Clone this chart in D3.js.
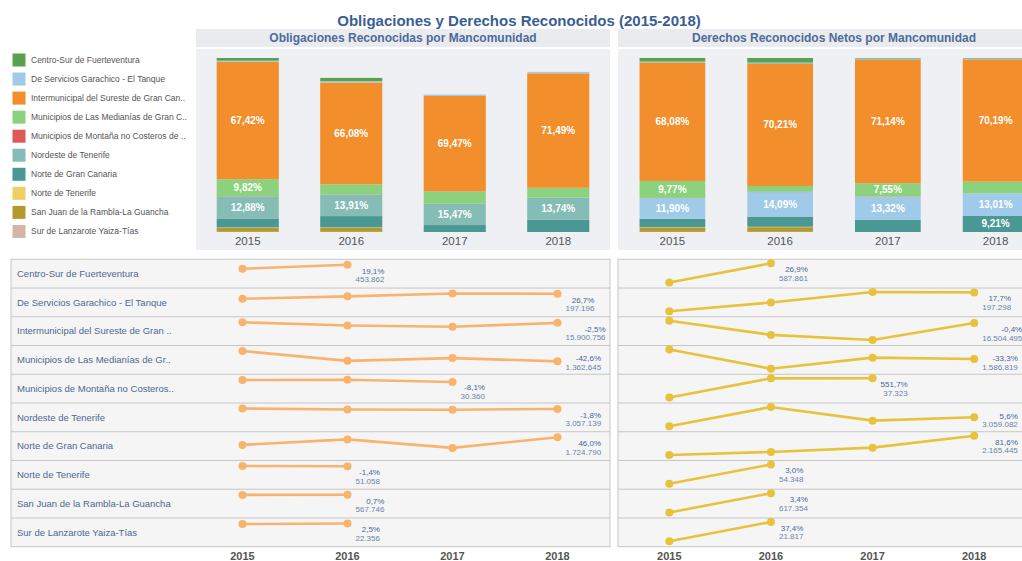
<!DOCTYPE html>
<html><head><meta charset="utf-8">
<script src="https://cdn.jsdelivr.net/npm/d3@7"></script>
<style>body{margin:0;background:#fff;overflow:hidden}svg{display:block;font-family:Arial,"Liberation Sans",sans-serif}</style>
</head><body><svg id="chart" width="1022" height="561"></svg>
<script>
// ---------- DATA ----------
const years = ["2015", "2016", "2017", "2018"];
const categories = [
  "Centro-Sur de Fuerteventura", "De Servicios Garachico - El Tanque",
  "Intermunicipal del Sureste de Gran Canaria", "Municipios de Las Medianías de Gran Canaria",
  "Municipios de Montaña no Costeros de Gran Canaria", "Nordeste de Tenerife",
  "Norte de Gran Canaria", "Norte de Tenerife", "San Juan de la Rambla-La Guancha",
  "Sur de Lanzarote Yaiza-Tías"];
const legendLabels = [
  "Centro-Sur de Fuerteventura", "De Servicios Garachico - El Tanque",
  "Intermunicipal del Sureste de Gran Can..", "Municipios de Las Medianías de Gran C..",
  "Municipios de Montaña no Costeros de ..", "Nordeste de Tenerife", "Norte de Gran Canaria",
  "Norte de Tenerife", "San Juan de la Rambla-La Guancha", "Sur de Lanzarote Yaiza-Tías"];
const rowLabels = [
  "Centro-Sur de Fuerteventura", "De Servicios Garachico - El Tanque",
  "Intermunicipal del Sureste de Gran ..", "Municipios de Las Medianías de Gr..",
  "Municipios de Montaña no Costeros..", "Nordeste de Tenerife", "Norte de Gran Canaria",
  "Norte de Tenerife", "San Juan de la Rambla-La Guancha", "Sur de Lanzarote Yaiza-Tías"];

// Obligaciones reconocidas (€), 2015-2018 (null = sin dato)
const oblCentroSur   = [381078, 453862, null, null];
const oblGarachico   = [155640, 176000, 199000, 197196];
const oblSureste     = [16300500, 14149000, 13268400, 15900756];
const oblMedianias   = [2373946, 1410000, 1680000, 1362645];
const oblMontana     = [33036, 33500, 30360, null];
const oblNordeste    = [3114600, 2978000, 2954700, 3057139];
const oblNorteGC     = [1181363, 1570000, 967000, 1724790];
const oblNorteTF     = [51783, 51058, null, null];
const oblSanJuan     = [563800, 567746, null, null];
const oblSurLanz     = [21811, 22356, null, null];

// Derechos reconocidos netos (€), 2015-2018
const derCentroSur   = [463248, 587861, null, null];
const derGarachico   = [167628, 181400, 197900, 197298];
const derSureste     = [16571000, 16160300, 16011000, 16504495];
const derMedianias   = [2379000, 769000, 1699200, 1586819];
const derMontana     = [5727, 37200, 37323, null];
const derNordeste    = [2896900, 3243100, 2997800, 3059082];
const derNorteGC     = [1192426, 1344700, 1563000, 2165445];
const derNorteTF     = [52765, 54348, null, null];
const derSanJuan     = [597054, 617354, null, null];
const derSurLanz     = [15878, 21817, null, null];

const obligaciones = [oblCentroSur, oblGarachico, oblSureste, oblMedianias, oblMontana,
  oblNordeste, oblNorteGC, oblNorteTF, oblSanJuan, oblSurLanz];
const derechos = [derCentroSur, derGarachico, derSureste, derMedianias, derMontana,
  derNordeste, derNorteGC, derNorteTF, derSanJuan, derSurLanz];

const colorsObl = ["#59a14f","#a0cbe8","#f28e2b","#8cd17d","#e15759","#86bcb6","#499894","#f1ce63","#b6992d","#d7b5a6"];
const colorsDer = ["#59a14f","#86bcb6","#f28e2b","#8cd17d","#e15759","#a0cbe8","#499894","#f1ce63","#b6992d","#d7b5a6"];

// ---------- SETUP ----------
const svg = d3.select("#chart");
const loc = d3.formatLocale({decimal: ",", thousands: ".", grouping: [3], currency: ["", "€"], minus: "-"});
const fmtShare = loc.format(".2%"), fmtChg = loc.format(".1%"), fmtVal = loc.format(",.0f");

svg.append("text").attr("x", 519).attr("y", 26).attr("text-anchor", "middle")
  .attr("font-size", 15).attr("font-weight", "bold").attr("fill", "#3b5e92")
  .text("Obligaciones y Derechos Reconocidos (2015-2018)");

// legend
const lg = svg.append("g");
categories.forEach((c, i) => {
  const cy = 60 + i * 19.05;
  lg.append("rect").attr("x", 12.5).attr("y", cy - 6.5).attr("width", 13).attr("height", 13)
    .attr("fill", colorsObl[i]);
  lg.append("text").attr("x", 31).attr("y", cy + 3).attr("font-size", 8.5).attr("fill", "#555")
    .text(legendLabels[i]);
});

// ---------- STACKED BARS ----------
function drawBars({x0, x1, title, data, colors, normalize, padIn}) {
  const g = svg.append("g");
  g.append("rect").attr("x", x0).attr("y", 29).attr("width", x1 - x0).attr("height", 18).attr("fill", "#e9ebee");
  g.append("rect").attr("x", x0).attr("y", 49).attr("width", x1 - x0).attr("height", 201).attr("fill", "#eef0f3");
  g.append("text").attr("x", (x0 + x1) / 2).attr("y", 42).attr("text-anchor", "middle")
    .attr("font-size", 12).attr("font-weight", "bold").attr("fill", "#4d6c9b").text(title);

  const table = years.map((yr, j) => {
    const row = {year: yr};
    categories.forEach((c, i) => row[c] = data[i][j] == null ? 0 : data[i][j]);
    row.total = d3.sum(categories, c => row[c]);
    return row;
  });
  const keys = categories.slice().reverse();
  const stack = d3.stack().keys(keys);
  if (normalize) stack.offset(d3.stackOffsetExpand);
  const series = stack(table);
  const x = d3.scaleBand().domain(years).range([x0, x1]).paddingInner(padIn).paddingOuter(0.2);
  const y = d3.scaleLinear().domain([0, normalize ? 1 : d3.max(table, d => d.total)]).range([232, 58]);

  series.forEach(s => {
    const ci = categories.indexOf(s.key);
    g.append("g").selectAll("rect").data(s).join("rect")
      .attr("x", d => x(d.data.year)).attr("width", x.bandwidth())
      .attr("y", d => y(d[1])).attr("height", d => Math.max(0, y(d[0]) - y(d[1])))
      .attr("fill", colors[ci]);
    g.append("g").selectAll("text").data(s.filter(d => y(d[0]) - y(d[1]) >= 12.8)).join("text")
      .attr("x", d => x(d.data.year) + x.bandwidth() / 2)
      .attr("y", d => (y(d[0]) + y(d[1])) / 2 + 3.5)
      .attr("text-anchor", "middle").attr("font-size", 10).attr("font-weight", "bold").attr("fill", "#fff")
      .text(d => fmtShare(d.data[s.key] / d.data.total));
  });
  g.append("g").selectAll("text").data(years).join("text")
    .attr("x", d => x(d) + x.bandwidth() / 2).attr("y", 245).attr("text-anchor", "middle")
    .attr("font-size", 11.5).attr("fill", "#555").text(d => d);
}

drawBars({x0: 196, x1: 610, title: "Obligaciones Reconocidas por Mancomunidad",
  data: obligaciones, colors: colorsObl, normalize: false, padIn: 0.4});
drawBars({x0: 618, x1: 1050, title: "Derechos Reconocidos Netos por Mancomunidad",
  data: derechos, colors: colorsDer, normalize: true, padIn: 0.39});

// ---------- SPARKLINES ----------
const rowTop0 = 259.3, rowH = 28.74, nRows = categories.length;
function drawLines({x0, x1, px0, px1, data, color, zeroBased, labels}) {
  const g = svg.append("g");
  g.append("rect").attr("x", x0).attr("y", rowTop0).attr("width", x1 - x0).attr("height", rowH * nRows)
    .attr("fill", "#f5f5f5").attr("stroke", "#c6c6c6");
  for (let i = 1; i < nRows; i++) {
    g.append("line").attr("x1", x0).attr("x2", x1)
      .attr("y1", rowTop0 + i * rowH).attr("y2", rowTop0 + i * rowH).attr("stroke", "#c6c6c6");
  }
  const x = d3.scalePoint().domain(years).range([px0, px1]).padding(0.5);
  data.forEach((vals, i) => {
    const top = rowTop0 + i * rowH, bot = top + rowH;
    const pts = years.map((yr, j) => ({yr, v: vals[j]})).filter(d => d.v != null);
    const ext = d3.extent(pts, d => d.v);
    const y = zeroBased
      ? d3.scaleLinear().domain([0, ext[1]]).range([bot + 1, top + 5.5])
      : d3.scaleLinear().domain(ext).range([bot - 5.5, top + 4]);
    if (labels) {
      g.append("text").attr("x", x0 + 6).attr("y", (top + bot) / 2 + 3.3).attr("font-size", 9.5)
        .attr("fill", "#4e6890").text(labels[i]);
    }
    g.append("path").datum(pts).attr("fill", "none").attr("stroke", color).attr("stroke-width", 2.6)
      .attr("d", d3.line().x(d => x(d.yr)).y(d => y(d.v)));
    g.append("g").selectAll("circle").data(pts).join("circle")
      .attr("cx", d => x(d.yr)).attr("cy", d => y(d.v)).attr("r", 4).attr("fill", color);
    const first = pts[0], last = pts[pts.length - 1];
    const lx = x(last.yr) + 8;
    const b1 = Math.min(y(last.v) + 9, bot - 13);
    const t1 = g.append("text").attr("y", b1).attr("font-size", 8).attr("fill", "#46679a")
      .attr("text-anchor", "end").text(fmtChg(last.v / first.v - 1));
    const t2 = g.append("text").attr("y", b1 + 8.5).attr("font-size", 8).attr("fill", "#6a84aa")
      .attr("text-anchor", "end").text(fmtVal(last.v));
    const w = Math.max(t1.node().getComputedTextLength(), t2.node().getComputedTextLength());
    t1.attr("x", lx + w); t2.attr("x", lx + w);
  });
  g.append("g").selectAll("text").data(years).join("text")
    .attr("x", d => x(d)).attr("y", 559.5).attr("text-anchor", "middle")
    .attr("font-size", 11).attr("font-weight", "bold").attr("fill", "#555").text(d => d);
}

drawLines({x0: 11, x1: 610, px0: 190, px1: 610, data: obligaciones, color: "#f8b46c",
  zeroBased: true, labels: rowLabels});
drawLines({x0: 618, x1: 1030, px0: 618.5, px1: 1025, data: derechos, color: "#e8c23c",
  zeroBased: false, labels: null});
</script></body></html>
